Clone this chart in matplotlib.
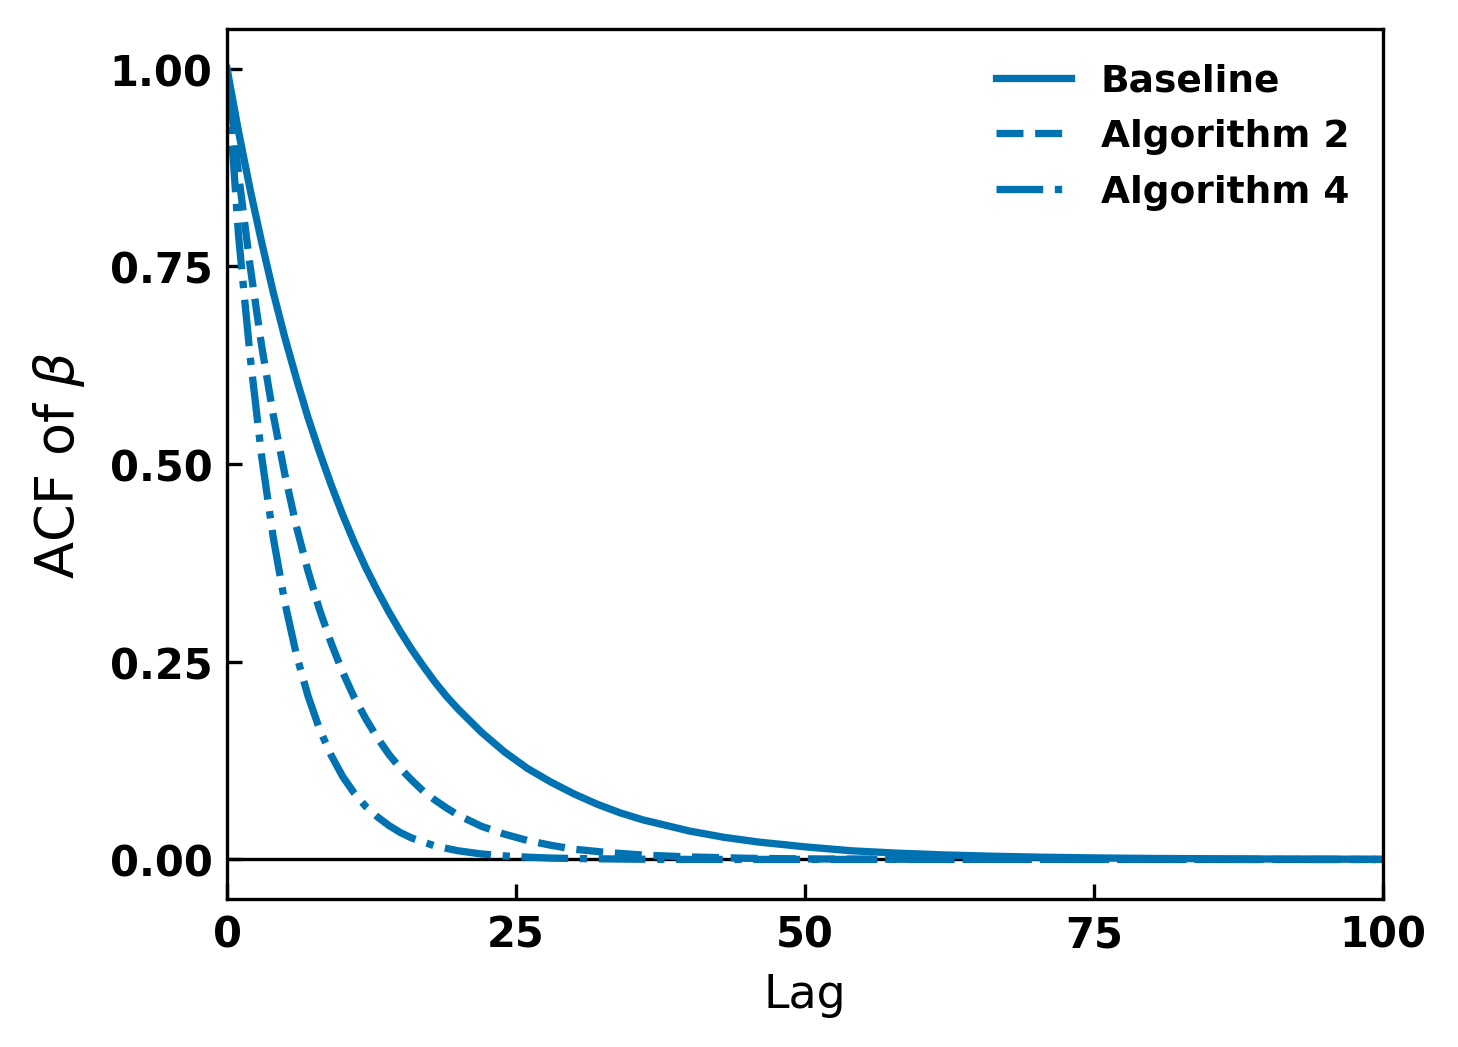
import numpy as np
import matplotlib
matplotlib.use('Agg')
import matplotlib.pyplot as plt

# ACF of beta for three samplers
lags_base = [0, 1, 2, 3, 4, 5, 6, 7, 8, 9, 10, 11, 12, 13, 14, 15, 16, 17, 18, 19,
             20, 22, 24, 26, 28, 30, 32, 34, 36, 38, 40, 43, 46, 50, 54, 58, 62, 66,
             70, 75, 80, 90, 100]
acf_base = [1.000, 0.920, 0.847, 0.780, 0.717, 0.660, 0.608, 0.559, 0.515, 0.474,
            0.436, 0.401, 0.369, 0.340, 0.313, 0.288, 0.265, 0.244, 0.224, 0.206,
            0.190, 0.161, 0.136, 0.115, 0.098, 0.083, 0.070, 0.059, 0.050, 0.043,
            0.036, 0.028, 0.022, 0.016, 0.011, 0.008, 0.0058, 0.0042,
            0.003, 0.002, 0.0013, 0.0006, 0.0003]

lags_alg2 = [0, 1, 2, 3, 4, 5, 6, 7, 8, 9, 10, 11, 12, 13, 14, 15, 16, 17, 18, 19,
             20, 22, 24, 26, 28, 30, 33, 36, 40, 45, 50, 60, 100]
acf_alg2 = [1.000, 0.866, 0.750, 0.649, 0.562, 0.487, 0.421, 0.365, 0.316, 0.274,
            0.237, 0.205, 0.178, 0.154, 0.133, 0.115, 0.100, 0.086, 0.075, 0.065,
            0.056, 0.042, 0.032, 0.024, 0.018, 0.013, 0.0087, 0.0056, 0.0032,
            0.0015, 0.0007, 0.0002, 0.0]

lags_alg4 = [0, 1, 2, 3, 4, 5, 6, 7, 8, 9, 10, 11, 12, 13, 14, 15, 16, 17, 18, 19,
             20, 22, 24, 26, 28, 30, 35, 40, 100]
acf_alg4 = [1.000, 0.788, 0.636, 0.509, 0.407, 0.325, 0.259, 0.207, 0.165, 0.132,
            0.105, 0.084, 0.067, 0.054, 0.043, 0.034, 0.027, 0.022, 0.017, 0.014,
            0.011, 0.007, 0.0045, 0.0029, 0.0018, 0.0012, 0.0004, 0.0001, 0.0]

labels = ['Baseline', 'Algorithm 2', 'Algorithm 4']
styles = ['-', '--', '-.']
color = '#0072B2'

fig = plt.figure(figsize=(4.86, 3.4933), dpi=300)
ax = fig.add_axes([0.1557, 0.1412, 0.9486 - 0.1557, 0.9714 - 0.1412])

series = [(lags_base, acf_base), (lags_alg2, acf_alg2), (lags_alg4, acf_alg4)]
for (x, y), lab, ls in zip(series, labels, styles):
    ax.plot(x, y, ls, color=color, lw=1.75, label=lab)

ax.axhline(0, color='black', lw=0.8, zorder=1)

ax.set_xlim(0, 100)
ax.set_ylim(-0.05, 1.05)
ax.set_xticks([0, 25, 50, 75, 100])
ax.set_yticks([0.0, 0.25, 0.5, 0.75, 1.0])
ax.set_yticklabels(['0.00', '0.25', '0.50', '0.75', '1.00'])
ax.tick_params(direction='in', labelsize=10, length=3.5, width=0.8)
for lbl in ax.get_xticklabels() + ax.get_yticklabels():
    lbl.set_fontweight('bold')

ax.set_xlabel('Lag', fontsize=11)
ax.set_ylabel(r'ACF of $\beta$', fontsize=13, labelpad=5.5)

ax.legend(loc='upper right', frameon=False, prop={'weight': 'bold', 'size': 9},
          labelspacing=0.52)

fig.savefig('out.png', dpi=300)
